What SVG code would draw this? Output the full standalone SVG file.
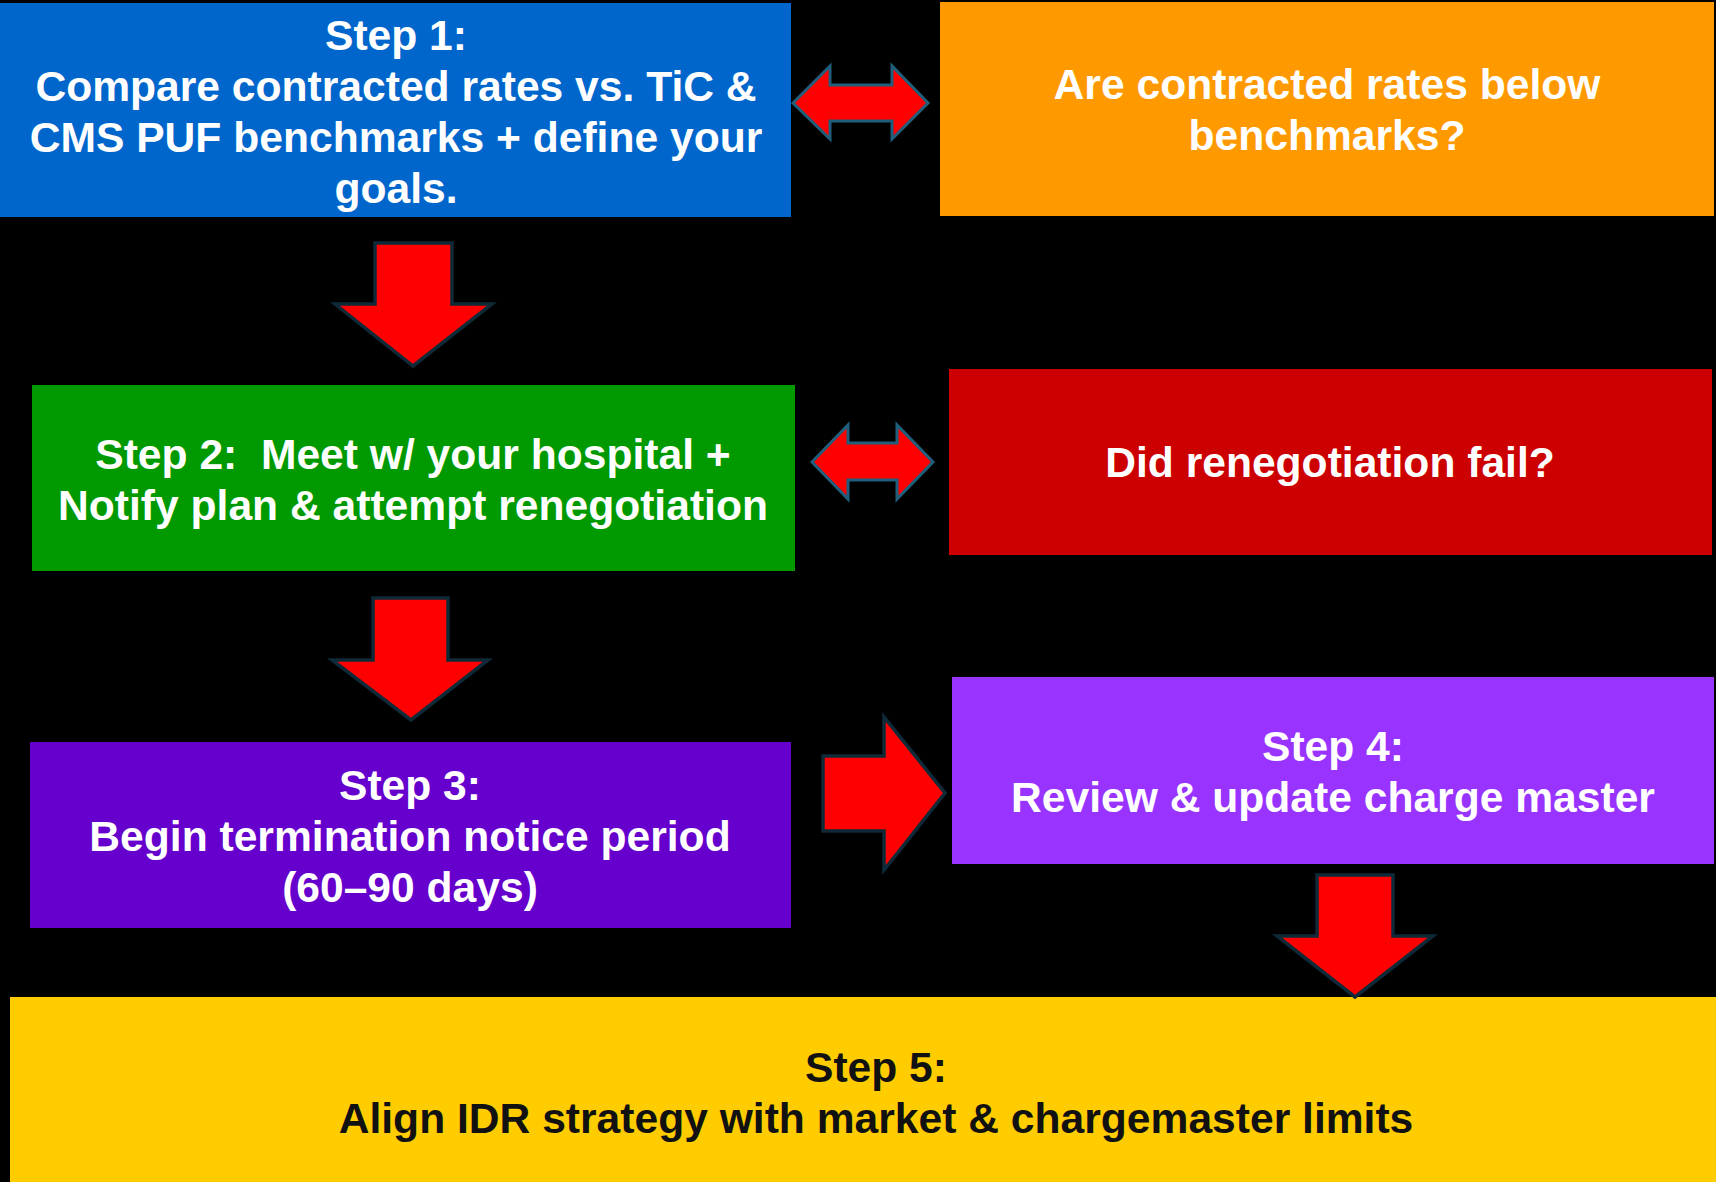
<svg xmlns="http://www.w3.org/2000/svg" width="1716" height="1182" viewBox="0 0 1716 1182">
<style>
text{font-family:"Liberation Sans",Arial,sans-serif;font-weight:bold;font-size:42.6px;text-anchor:middle;fill:#fff;white-space:pre}
.dark{fill:#111}
.arr{fill:#FF0000;stroke:#0E2A38;stroke-width:3.5;stroke-linejoin:miter}
.darr{fill:#FF0000;stroke:#1F5F7C;stroke-width:3;stroke-linejoin:miter}
</style>
<rect width="1716" height="1182" fill="#000"/>
<g id="step1">
<rect x="0" y="3" width="791" height="214" fill="#0066CC"/>
<text x="396" y="50">Step 1:</text>
<text x="396" y="101">Compare contracted rates vs. TiC &amp;</text>
<text x="396" y="152">CMS PUF benchmarks + define your</text>
<text x="396" y="203">goals.</text>
</g>
<g id="q1">
<rect x="940" y="2" width="774" height="214" fill="#FF9900"/>
<text x="1327" y="99">Are contracted rates below</text>
<text x="1327" y="150">benchmarks?</text>
</g>
<g id="step2">
<rect x="32" y="385" width="763" height="186" fill="#009900"/>
<text x="413" y="469">Step 2:  Meet w/ your hospital +</text>
<text x="413" y="520">Notify plan &amp; attempt renegotiation</text>
</g>
<g id="q2">
<rect x="949" y="369" width="763" height="186" fill="#CC0000"/>
<text x="1330" y="477">Did renegotiation fail?</text>
</g>
<g id="step3">
<rect x="30" y="742" width="761" height="186" fill="#6600CC"/>
<text x="410" y="800">Step 3:</text>
<text x="410" y="851">Begin termination notice period</text>
<text x="410" y="902">(60–90 days)</text>
</g>
<g id="step4">
<rect x="952" y="677" width="762" height="187" fill="#9933FF"/>
<text x="1333" y="761">Step 4:</text>
<text x="1333" y="812">Review &amp; update charge master</text>
</g>
<g id="step5">
<rect x="10" y="997" width="1730" height="185" fill="#FFCC00"/>
<text class="dark" x="876" y="1082">Step 5:</text>
<text class="dark" x="876" y="1133">Align IDR strategy with market &amp; chargemaster limits</text>
</g>
<g id="connectors">
<polygon class="darr" points="793,103 830,66 830,85 892,85 892,66 928,103 892,139 892,121 830,121 830,139"/>
<polygon class="darr" points="812,462 848,425 848,443 897,443 897,425 933,462 897,499 897,480 848,480 848,499"/>
<polygon class="arr" points="375,243 452,243 452,304 492,304 413,366 335,304 375,304"/>
<polygon class="arr" points="373,598 448,598 448,660 488,660 411,720 332,660 373,660"/>
<polygon class="arr" points="823,756 884,756 884,717 945,793 884,870 884,831 823,831"/>
<polygon class="arr" points="1317,875 1393,875 1393,936 1433,936 1355,997 1277,936 1317,936"/>
</g>
</svg>
